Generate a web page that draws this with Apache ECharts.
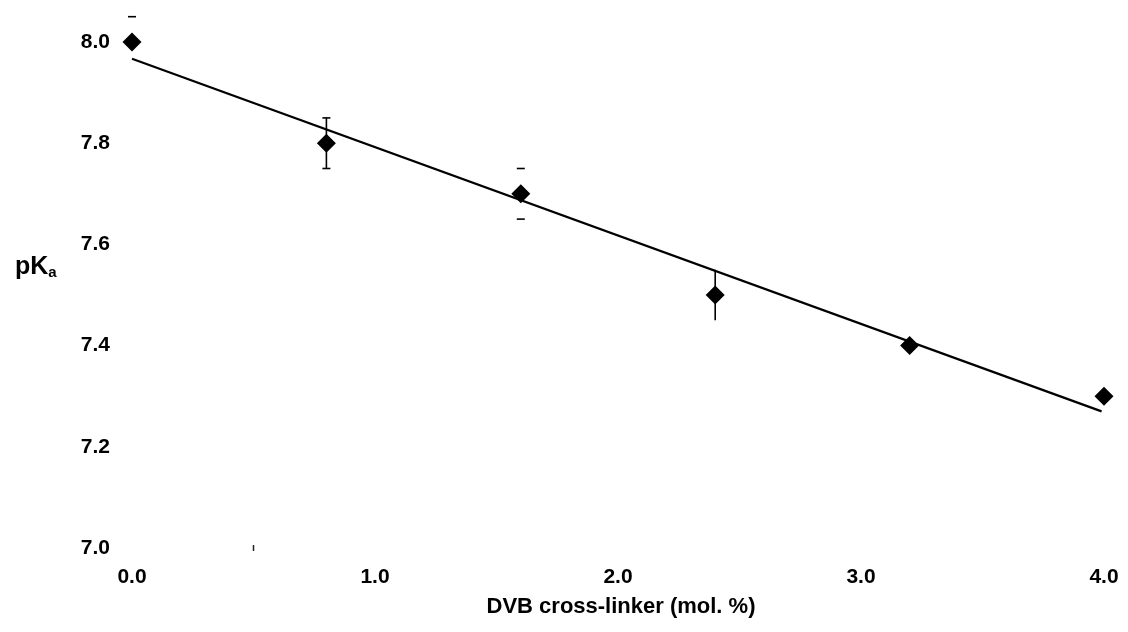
<!DOCTYPE html>
<html>
<head>
<meta charset="utf-8">
<script src="https://cdn.jsdelivr.net/npm/echarts@6/dist/echarts.min.js"></script>
<style>
html,body{margin:0;padding:0;background:#fff;}
#chart{width:1128px;height:632px;}
</style>
</head>
<body>
<div id="chart"></div>
<script>
// Data
var dvb = [0.0, 0.8, 1.6, 2.4, 3.2, 4.0];
var pKa = [8.0, 7.8, 7.7, 7.5, 7.4, 7.3];
var errUpper = [8.05, 7.85, 7.75, 7.55, null, null];
var errLower = [null, 7.75, 7.65, 7.45, null, null];
var errKind = ['caps', 'full', 'caps', 'stem', 'none', 'none'];
var fitX = [0.0, 3.99];
var fitY = [7.967, 7.270];
var xTicks = [0, 1, 2, 3, 4];
var yTicks = [7.0, 7.2, 7.4, 7.6, 7.8, 8.0];
var strayTick = [[0.5, 7.0]];

var FONT = '"Liberation Sans", Arial, Helvetica, sans-serif';

var errData = dvb.map(function (x, i) { return [x, errLower[i], errUpper[i], i]; });

var chart = echarts.init(document.getElementById('chart'));
chart.setOption({
  animation: false,
  backgroundColor: '#ffffff',
  title: {
    text: '{a|pK}{b|a}',
    left: 10,
    top: 250,
    textStyle: {
      rich: {
        a: { fontFamily: FONT, fontWeight: 'bold', fontSize: 25, color: '#000' },
        b: { fontFamily: FONT, fontWeight: 'bold', fontSize: 15, color: '#000', verticalAlign: 'bottom', padding: [10, 0, 0, 0] }
      }
    }
  },
  grid: { left: 132, right: 24, top: 42, bottom: 84, containLabel: false },
  xAxis: {
    type: 'value', min: 0, max: 4, interval: 1,
    name: 'DVB cross-linker (mol. %)',
    nameLocation: 'middle', nameGap: 48,
    nameTextStyle: { fontFamily: FONT, fontWeight: 'bold', fontSize: 22, color: '#000', padding: [0, 0, 0, 6] },
    axisLine: { show: false }, axisTick: { show: false }, splitLine: { show: false },
    axisLabel: {
      margin: 19, fontFamily: FONT, fontWeight: 'bold', fontSize: 21, color: '#000',
      formatter: function (v) { return xTicks.indexOf(v) >= 0 ? v.toFixed(1) : ''; }
    }
  },
  yAxis: {
    type: 'value', min: 7.0, max: 8.0, interval: 0.2,
    axisLine: { show: false }, axisTick: { show: false }, splitLine: { show: false },
    axisLabel: {
      margin: 22, fontFamily: FONT, fontWeight: 'bold', fontSize: 21, color: '#000',
      formatter: function (v) { return v.toFixed(1); }
    }
  },
  series: [
    {
      type: 'line',
      data: fitX.map(function (x, i) { return [x, fitY[i]]; }),
      symbol: 'none',
      lineStyle: { color: '#000', width: 2.2 },
      z: 2
    },
    {
      type: 'custom',
      data: errData,
      z: 3,
      renderItem: function (params, api) {
        var i = api.value(3);
        var kind = errKind[i];
        var x = api.value(0);
        var lo = errLower[i], hi = errUpper[i];
        var children = [];
        var cw = 4;
        var style = { stroke: '#000', lineWidth: 1.6 };
        var pHi = hi != null ? api.coord([x, hi]) : null;
        var pLo = lo != null ? api.coord([x, lo]) : null;
        if (kind === 'full' || kind === 'stem') {
          if (pHi && pLo) {
            children.push({ type: 'line', shape: { x1: pHi[0], y1: pHi[1], x2: pLo[0], y2: pLo[1] }, style: style });
          }
        }
        if (kind === 'full' || kind === 'caps') {
          [pHi, pLo].forEach(function (p) {
            if (p) children.push({ type: 'line', shape: { x1: p[0] - cw, y1: p[1], x2: p[0] + cw, y2: p[1] }, style: style });
          });
        }
        return { type: 'group', children: children };
      }
    },
    {
      type: 'scatter',
      data: dvb.map(function (x, i) { return [x, pKa[i]]; }),
      symbol: 'diamond',
      symbolSize: 19,
      itemStyle: { color: '#000', opacity: 1 },
      z: 4
    },
    {
      type: 'scatter',
      data: strayTick,
      symbol: 'rect',
      symbolSize: [1.5, 6],
      itemStyle: { color: '#222', opacity: 1 },
      z: 1
    }
  ]
});
</script>
</body>
</html>
